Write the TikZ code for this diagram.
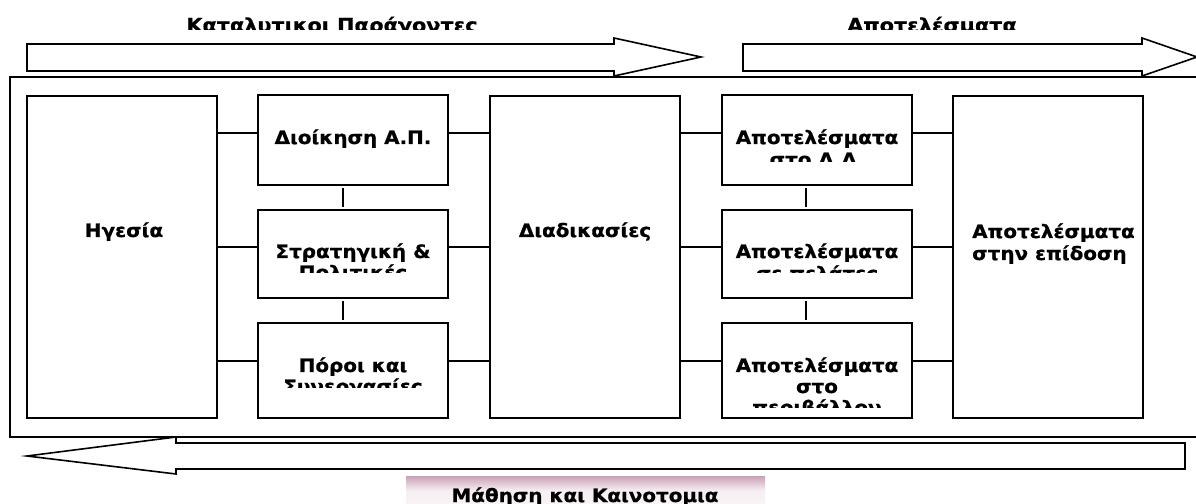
\documentclass[tikz,border=0pt]{standalone}
\usepackage{fontspec}
\setmainfont{DejaVu Sans}
\newfontfamily\wideface{DejaVu Sans}[FakeStretch=1.08, BoldFeatures={FakeBold=0.8}]
\definecolor{plum}{HTML}{8C2F60}
\pgfdeclareverticalshading{labelbar}{100bp}{color(0bp)=(white); color(55bp)=(plum!8); color(80bp)=(plum!55); color(100bp)=(plum)}
\begin{document}
\begin{tikzpicture}[x=1bp,y=-1bp,
  box/.style={draw, line width=1.6bp, fill=white, inner sep=0pt, outer sep=0pt, minimum width=190bp},
  link/.style={line width=1.4bp},
  gap/.style={link, shorten <=3bp, shorten >=3bp},
  band/.style={draw, line width=1.6bp, fill=white, line join=miter},
  txt/.style={font=\wideface\fontsize{18.5}{21}\selectfont\bfseries, inner sep=0pt, anchor=base},
  ttl/.style={font=\wideface\fontsize{19.3}{23}\selectfont\bfseries, inner sep=0pt, anchor=base}]
\clip (0,0) rectangle (1196,504);
\fill[white] (0,0) rectangle (1196,504);

% frame around the whole model, open past the right margin
\draw[line width=1.6bp] (1215,77) -- (10,77) -- (10,437) -- (1215,437);

% block arrows above the frame
\draw[band] (27,44) -- (614,44) -- (614,38) -- (701,57) -- (614,76) -- (614,71) -- (27,71) -- cycle;
\draw[band] (743,44) -- (1142,44) -- (1142,38) -- (1197,57) -- (1142,76) -- (1142,71) -- (743,71) -- cycle;

% headings, cut along their baseline
\begin{scope}
  \clip (0,0) rectangle (1196,30);
  \node[ttl] (enablers) at (332,32) {Καταλυτικοι Παράγοντες};
  \node[ttl] (results) at (932,32) {Αποτελέσματα};
\end{scope}

% return arrow below the frame
\draw[band] (1185,443) -- (176,443) -- (176,437) -- (27,456) -- (176,474) -- (176,469) -- (1185,469) -- cycle;

% boxes
\node[box, minimum height=322bp] (hg) at (122,257) {};
\node[box, minimum height=90bp] (a1) at (353,140) {};
\node[box, minimum height=88bp] (a2) at (353,254) {};
\node[box, minimum height=95bp] (a3) at (353,370.5) {};
\node[box, minimum height=322bp] (pr) at (585,257) {};
\node[box, minimum height=90bp] (b1) at (817,140) {};
\node[box, minimum height=88bp] (b2) at (817,254) {};
\node[box, minimum height=95bp] (b3) at (817,370.5) {};
\node[box, minimum height=322bp] (kp) at (1048,257) {};

% rows and columns of the connectors
\coordinate (r1) at (0,133);
\coordinate (r2) at (0,247);
\coordinate (r3) at (0,361);
\coordinate (va) at (343,0);
\coordinate (vb) at (806,0);

\foreach \r in {r1,r2,r3}{
  \draw[link] (hg.east |- \r) -- (a1.west |- \r);
  \draw[link] (a1.east |- \r) -- (pr.west |- \r);
  \draw[link] (pr.east |- \r) -- (b1.west |- \r);
  \draw[link] (b1.east |- \r) -- (kp.west |- \r);
}
\draw[gap] (va |- a1.south) -- (va |- a2.north);
\draw[gap] (va |- a2.south) -- (va |- a3.north);
\draw[gap] (vb |- b1.south) -- (vb |- b2.north);
\draw[gap] (vb |- b2.south) -- (vb |- b3.north);

% box texts
\node[txt] (hgt) at (124,237) {Ηγεσία};
\node[txt] (prt) at (585,237) {Διαδικασίες};
\node[txt] (a1t) at (353,144) {Διοίκηση Α.Π.};
\node[txt, anchor=base west] (kpt1) at (972,238) {Αποτελέσματα};
\node[txt, anchor=base west] (kpt2) at (972,260) {στην επίδοση};

\begin{scope}
  \clip (258,210) rectangle (448,273);
  \node[txt] (a2t1) at (353,258) {Στρατηγική \&};
  \node[txt] (a2t2) at (353,279) {Πολιτικές};
\end{scope}
\begin{scope}
  \clip (258,323) rectangle (448,388);
  \node[txt] (a3t1) at (353,372) {Πόροι και};
  \node[txt] (a3t2) at (353,393) {Συνεργασίες};
\end{scope}
\begin{scope}
  \clip (722,95) rectangle (912,162);
  \node[txt] (b1t1) at (817,144) {Αποτελέσματα};
  \node[txt] (b1t2) at (817,166) {στο Δ.Λ.};
\end{scope}
\begin{scope}
  \clip (722,210) rectangle (912,273);
  \node[txt] (b2t1) at (817,258) {Αποτελέσματα};
  \node[txt] (b2t2) at (817,280) {σε πελάτες};
\end{scope}
\begin{scope}
  \clip (722,323) rectangle (912,408);
  \node[txt] (b3t1) at (817,372) {Αποτελέσματα};
  \node[txt] (b3t2) at (817,393) {στο};
  \node[txt] (b3t3) at (817,414) {περιβάλλον};
\end{scope}

% label bar under the return arrow
\shade[shading=labelbar] (406,476) rectangle (765,512);
\node[txt] (learn) at (585,502) {Μάθηση και Καινοτομια};
\end{tikzpicture}
\end{document}
